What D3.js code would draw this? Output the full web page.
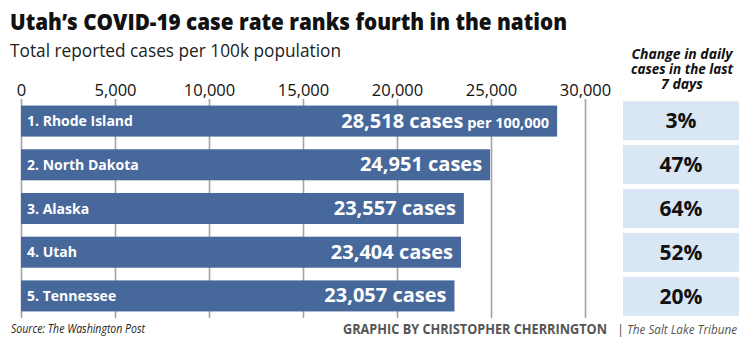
<!DOCTYPE html>
<html>
<head>
<meta charset="utf-8">
<script src="https://cdn.jsdelivr.net/npm/d3@7"></script>
<style>
  body { margin: 0; background: #fff; }
  text { font-family: "Open Sans", sans-serif; }
</style>
</head>
<body>
<div id="chart"></div>
<script>
const states = ["1. Rhode Island", "2. North Dakota", "3. Alaska", "4. Utah", "5. Tennessee"];
const cases = [28518, 24951, 23557, 23404, 23057];
const change = ["3%", "47%", "64%", "52%", "20%"];
const ticks = [0, 5000, 10000, 15000, 20000, 25000, 30000];

const W = 750, H = 350;

const svg = d3.select("#chart")
  .append("svg")
    .attr("width", W)
    .attr("height", H);

// scales
const x = d3.scaleLinear()
  .domain([0, 30000])
  .range([21, 585]);

const y = d3.scaleBand()
  .domain(states)
  .range([99, 318])
  .paddingInner(0.29)
  .paddingOuter(0.15);

// boxes on the right share the rows but are taller
const yBox = d3.scaleBand()
  .domain(states)
  .range([99, 318])
  .paddingInner(0.11)
  .paddingOuter(0.05);

// Title
svg.append("text")
  .attr("x", 10)
  .attr("y", 30)
  .attr("textLength", 557)
  .attr("lengthAdjust", "spacingAndGlyphs")
  .style("font-size", "22px")
  .style("font-weight", "800")
  .style("fill", "#111")
  .text("Utah’s COVID-19 case rate ranks fourth in the nation");

svg.append("text")
  .attr("x", 10)
  .attr("y", 57)
  .attr("textLength", 331)
  .attr("lengthAdjust", "spacingAndGlyphs")
  .style("font-size", "18px")
  .style("fill", "#222")
  .text("Total reported cases per 100k population");

// grid lines
const xAxisGrid = d3.axisTop(x)
  .tickValues(ticks)
  .tickSize(-(318 - 99))
  .tickFormat("");

svg.append("g")
  .attr("class", "x grid")
  .attr("transform", "translate(0,99)")
  .call(xAxisGrid)
  .call(g => g.select(".domain").remove())
  .selectAll("line")
  .style("stroke", "#a3a3a3")
  .style("stroke-width", 1.6);

// tick labels
const xAxis = d3.axisTop(x)
  .tickValues(ticks)
  .tickSize(0)
  .tickPadding(3)
  .tickFormat(d3.format(","));

svg.append("g")
  .attr("class", "x axis")
  .attr("transform", "translate(0,99)")
  .call(xAxis)
  .call(g => g.select(".domain").remove())
  .selectAll(".tick text")
  .style("font-family", "'Open Sans', sans-serif")
  .style("font-size", "16.5px")
  .style("fill", "#111");

// bars
svg.append("g")
  .selectAll("rect")
  .data(states)
  .join("rect")
    .attr("x", x(0))
    .attr("y", d => y(d))
    .attr("width", (d, i) => x(cases[i]) - x(0))
    .attr("height", y.bandwidth())
    .attr("fill", "#46689a");

// state names
svg.append("g")
  .selectAll("text")
  .data(states)
  .join("text")
    .attr("x", x(0) + 6)
    .attr("y", d => y(d) + y.bandwidth() / 2 + 5)
    .style("font-size", "14px")
    .style("font-weight", "bold")
    .style("fill", "#fff")
    .text(d => d);

// value labels
const vals = svg.append("g")
  .selectAll("text")
  .data(states)
  .join("text")
    .attr("x", (d, i) => x(cases[i]) - 8)
    .attr("y", d => y(d) + y.bandwidth() / 2 + 6.5)
    .attr("text-anchor", "end")
    .style("font-weight", "bold")
    .style("fill", "#fff");

vals.append("tspan")
  .style("font-size", "20px")
  .text((d, i) => d3.format(",")(cases[i]) + " cases");

vals.filter((d, i) => i === 0)
  .append("tspan")
  .style("font-size", "14.5px")
  .text(" per 100,000");

// change column header, one text with three lines
const head = ["Change in daily", "cases in the last", "7 days"];
const headLen = [101, 102, 42];
svg.append("text")
  .attr("y", 59)
  .attr("text-anchor", "middle")
  .style("font-size", "14.5px")
  .style("font-weight", "bold")
  .style("font-style", "italic")
  .style("fill", "#111")
  .selectAll("tspan")
  .data(head)
  .join("tspan")
    .attr("x", 682)
    .attr("dy", (d, i) => i === 0 ? 0 : 15)
    .attr("textLength", (d, i) => headLen[i])
    .attr("lengthAdjust", "spacingAndGlyphs")
    .text(d => d);

// change boxes
svg.append("g")
  .selectAll("rect")
  .data(states)
  .join("rect")
    .attr("x", 623)
    .attr("y", d => yBox(d))
    .attr("width", 116)
    .attr("height", yBox.bandwidth())
    .attr("fill", "#d9e7f4");

svg.append("g")
  .selectAll("text")
  .data(states)
  .join("text")
    .attr("x", 681)
    .attr("y", d => yBox(d) + yBox.bandwidth() / 2 + 7.5)
    .attr("text-anchor", "middle")
    .style("font-size", "21px")
    .style("font-weight", "bold")
    .style("fill", "#111")
    .text((d, i) => change[i]);

// footer
svg.append("text")
  .attr("x", 11)
  .attr("y", 333)
  .attr("textLength", 134)
  .attr("lengthAdjust", "spacingAndGlyphs")
  .style("font-size", "12.5px")
  .style("font-style", "italic")
  .style("fill", "#222")
  .text("Source: The Washington Post");

svg.append("text")
  .attr("x", 343)
  .attr("y", 334)
  .attr("textLength", 264)
  .attr("lengthAdjust", "spacingAndGlyphs")
  .style("font-size", "14px")
  .style("font-weight", "bold")
  .style("fill", "#555")
  .text("GRAPHIC BY CHRISTOPHER CHERRINGTON");

const credit = svg.append("text")
  .attr("x", 617)
  .attr("y", 334)
  .style("font-size", "13px")
  .style("fill", "#555");

credit.append("tspan")
  .text("|");

credit.append("tspan")
  .attr("x", 627)
  .attr("textLength", 110)
  .attr("lengthAdjust", "spacingAndGlyphs")
  .style("font-style", "italic")
  .text("The Salt Lake Tribune");
</script>
</body>
</html>
